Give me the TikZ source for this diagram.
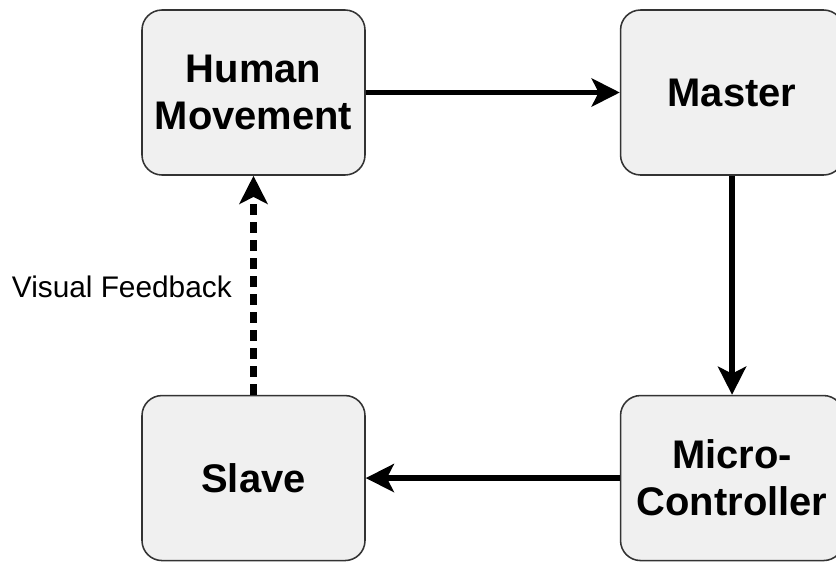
\documentclass[tikz,border=0pt]{standalone}
\usepackage{fontspec}
\setmainfont{Liberation Sans}
\usetikzlibrary{positioning, arrows.meta}
\definecolor{boxfill}{HTML}{F0F0F0}
\definecolor{boxline}{HTML}{333333}
\tikzstyle{block} = [
    rectangle,
    rounded corners=0.5cm,
    minimum width=5.575cm,
    minimum height=4.125cm,
    align=center,
    line width=1.1pt,
    draw=boxline,
    fill=boxfill,
    font=\fontsize{28.4}{33.6}\selectfont\bfseries
]
\tikzstyle{arrow} = [line width=3.9pt,-{Stealth[length=20pt,width=20pt,inset=5pt]}]
\tikzstyle{dasharrow} = [arrow, line width=4.4pt, dash pattern=on 7.8pt off 5pt]

\begin{document}
\begin{tikzpicture}
\useasboundingbox (-6.3375,2.3125) rectangle (14.5625,-11.7375);

\node (human) [block] {Human\\Movement};

\node (master) [block, right=6.35cm of human] {Master};

\node (micro) [block, below=5.475cm of master] {Micro-\\Controller};

\node (slave) [block, below=5.475cm of human] {Slave};

\draw [arrow] (human) -- (master);
\draw [arrow] (master) -- (micro);
\draw [arrow] (micro) -- (slave);
\draw [dasharrow] (slave) -- node [left, xshift=-0.35cm, yshift=-0.05cm, font=\fontsize{21.2}{25}\selectfont] {Visual Feedback} (human);

\end{tikzpicture}
\end{document}
